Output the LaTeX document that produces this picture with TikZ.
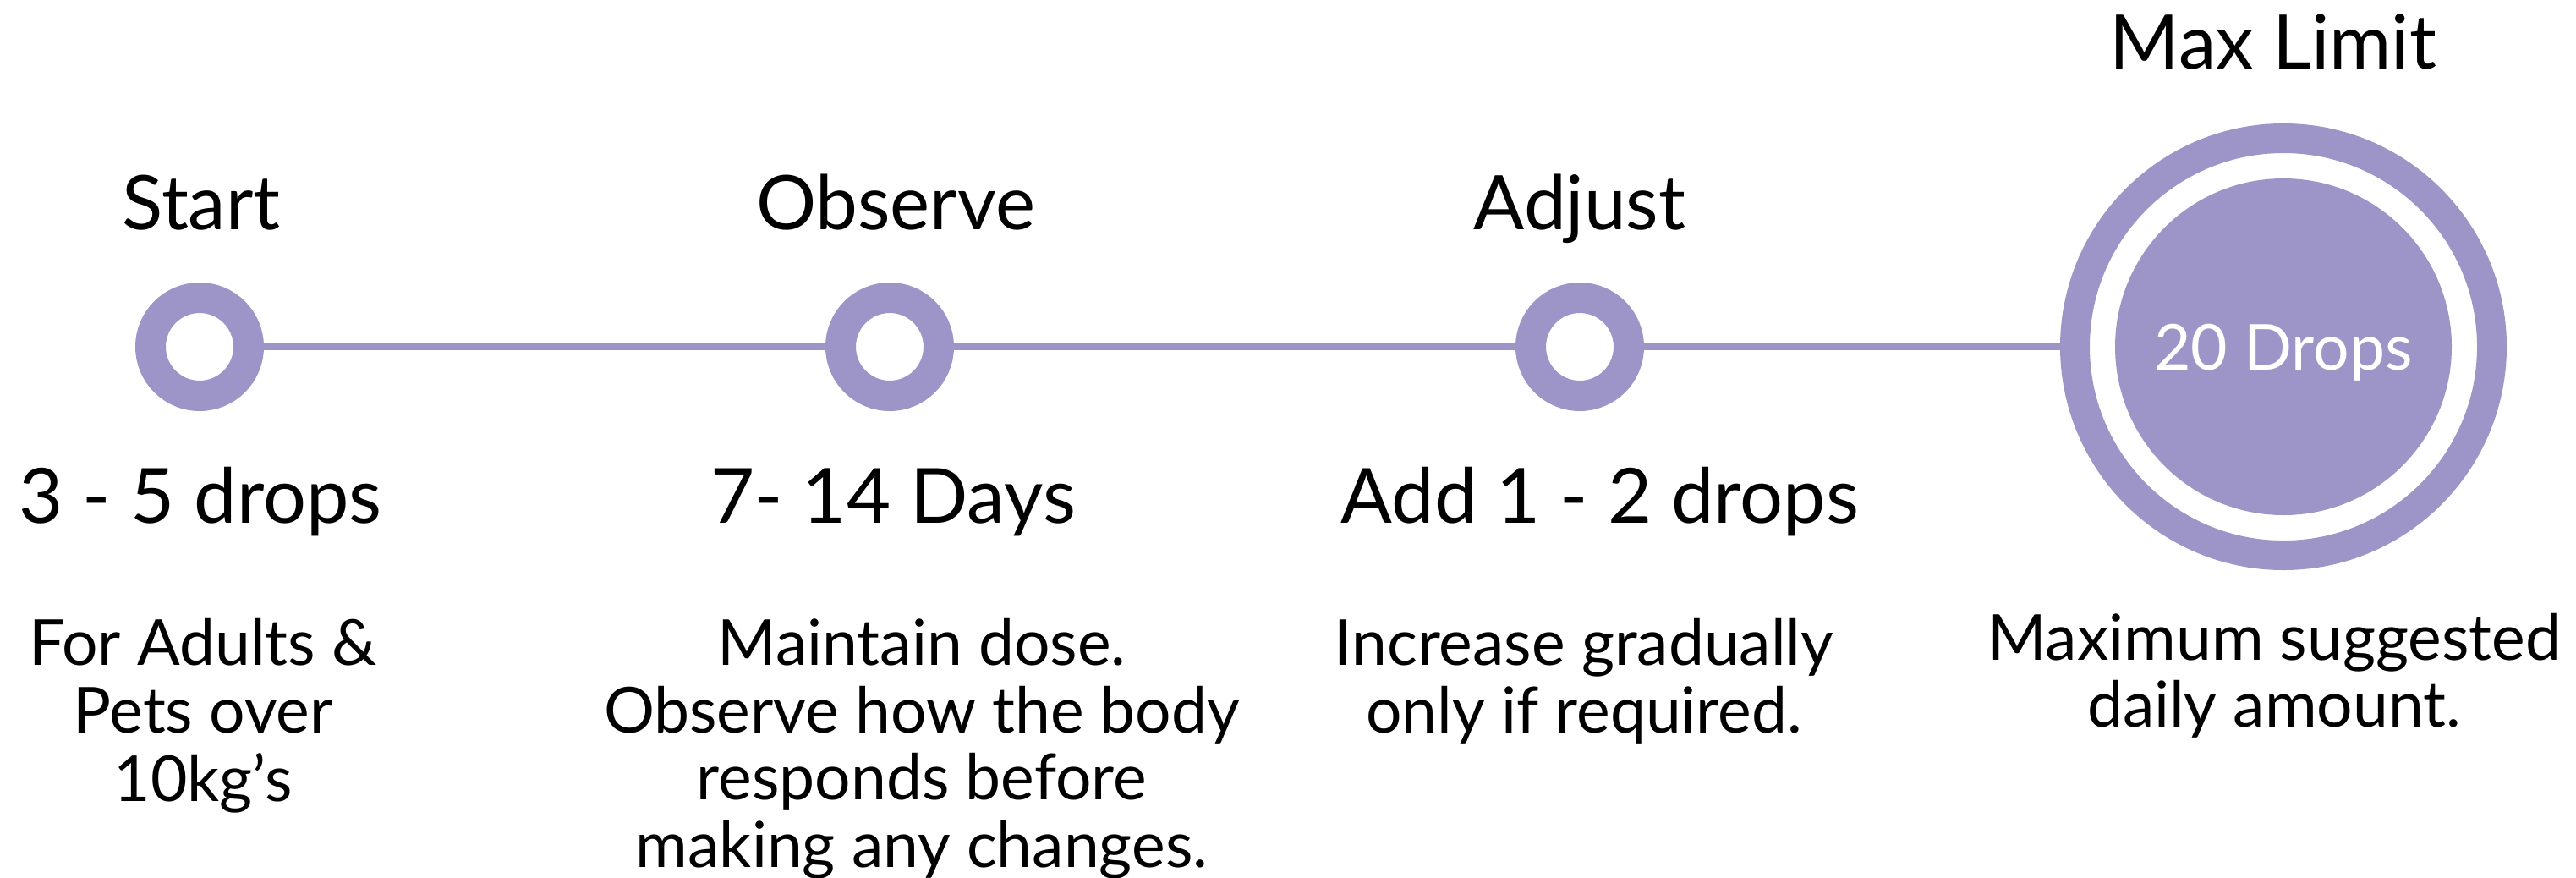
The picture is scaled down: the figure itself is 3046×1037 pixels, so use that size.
\documentclass[tikz,border=0pt]{standalone}
\usepackage{fontspec}
\setmainfont{Lato}
\definecolor{lav}{RGB}{157,148,199}
\newcommand{\desclines}[1]{\begin{tabular}[t]{@{}c@{}}#1\end{tabular}}
\tikzset{
  ringdot/.style={circle, draw=lav, line width=36pt, fill=white, minimum size=116pt, inner sep=0pt},
  bigring/.style={circle, draw=lav, line width=35pt, fill=white, minimum size=493pt, inner sep=0pt},
  bigdisk/.style={circle, fill=lav, minimum size=398pt, inner sep=0pt},
  title/.style={anchor=base, inner sep=0pt, font=\fontsize{89}{95}\selectfont},
  value/.style={anchor=base, inner sep=0pt, font=\fontsize{90}{96}\selectfont},
  desc/.style={anchor=base, inner sep=0pt, font=\fontsize{75}{79.5}\selectfont},
  link/.style={draw=lav, line width=7.3pt}
}
\begin{document}
\begin{tikzpicture}[x=1pt,y=-1pt]
\useasboundingbox (0,0) rectangle (3046,1037);
% timeline nodes
\node[ringdot] (c1) at (236,410) {};
\node[ringdot] (c2) at (1052,410) {};
\node[ringdot] (c3) at (1868,410) {};
\node[bigring] (c4) at (2700,410) {};
% connectors
\draw[link] (c1) -- (c2);
\draw[link] (c2) -- (c3);
\draw[link] (c3) -- (c4);
\node[bigdisk] (d4) at (2700,410) {};
\node[anchor=base, inner sep=0pt, text=white, font=\fontsize{75}{80}\selectfont] (t20) at (2700,437.6) {20 Drops};
% titles
\node[title] (s1) at (238,271.7) {Start};
\node[title] (s2) at (1059,271.7) {Observe};
\node[title] (s3) at (1868,271.7) {Adjust};
\node[title] (s4) at (2688,81.7) {Max Limit};
% values
\node[value] (v1) at (237,618) {3 - 5 drops};
\node[value] (v2) at (1056,618) {7- 14 Days};
\node[value] (v3) at (1892,618) {Add 1 - 2 drops};
% descriptions
\node[desc] (e1) at (240,786.7) {\desclines{For Adults \&\\Pets over\\10kg’s}};
\node[desc] (e2) at (1090,786.7) {\desclines{Maintain dose.\\Observe how the body\\responds before\\making any changes.}};
\node[desc] (e3) at (1873,786.7) {\desclines{Increase gradually\\only if required.}};
\node[desc] (e4) at (2689,780) {\desclines{Maximum suggested\\daily amount.}};
\end{tikzpicture}
\end{document}
